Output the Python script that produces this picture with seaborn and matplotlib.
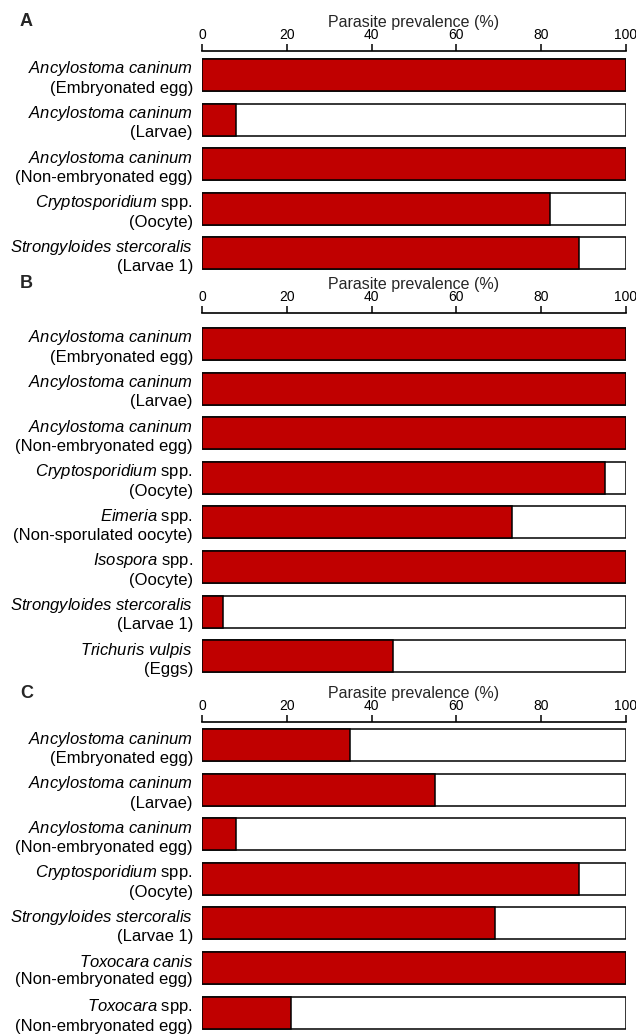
import matplotlib
matplotlib.use("Agg")
import matplotlib.pyplot as plt
import seaborn as sns

sns.set_style("white")
plt.rcParams["font.family"] = ["Liberation Sans", "DejaVu Sans"]
plt.rcParams["mathtext.fontset"] = "custom"
plt.rcParams["mathtext.it"] = "Liberation Sans:italic"
plt.rcParams["mathtext.rm"] = "Liberation Sans"

# ---------------- data ----------------
labels_A = [
    r"$\it{Ancylostoma}$ $\it{caninum}$" + "\n(Embryonated egg)",
    r"$\it{Ancylostoma}$ $\it{caninum}$" + "\n(Larvae)",
    r"$\it{Ancylostoma}$ $\it{caninum}$" + "\n(Non-embryonated egg)",
    r"$\it{Cryptosporidium}$ spp." + "\n(Oocyte)",
    r"$\it{Strongyloides}$ $\it{stercoralis}$" + "\n(Larvae 1)",
]
values_A = [100, 8, 100, 82, 89]

labels_B = [
    r"$\it{Ancylostoma}$ $\it{caninum}$" + "\n(Embryonated egg)",
    r"$\it{Ancylostoma}$ $\it{caninum}$" + "\n(Larvae)",
    r"$\it{Ancylostoma}$ $\it{caninum}$" + "\n(Non-embryonated egg)",
    r"$\it{Cryptosporidium}$ spp." + "\n(Oocyte)",
    r"$\it{Eimeria}$ spp." + "\n(Non-sporulated oocyte)",
    r"$\it{Isospora}$ spp." + "\n(Oocyte)",
    r"$\it{Strongyloides}$ $\it{stercoralis}$" + "\n(Larvae 1)",
    r"$\it{Trichuris}$ $\it{vulpis}$" + "\n(Eggs)",
]
values_B = [100, 100, 100, 95, 73, 100, 5, 45]

labels_C = [
    r"$\it{Ancylostoma}$ $\it{caninum}$" + "\n(Embryonated egg)",
    r"$\it{Ancylostoma}$ $\it{caninum}$" + "\n(Larvae)",
    r"$\it{Ancylostoma}$ $\it{caninum}$" + "\n(Non-embryonated egg)",
    r"$\it{Cryptosporidium}$ spp." + "\n(Oocyte)",
    r"$\it{Strongyloides}$ $\it{stercoralis}$" + "\n(Larvae 1)",
    r"$\it{Toxocara}$ $\it{canis}$" + "\n(Non-embryonated egg)",
    r"$\it{Toxocara}$ spp." + "\n(Non-embryonated egg)",
]
values_C = [35, 55, 8, 89, 69, 100, 21]

panel_letters = ["A", "B", "C"]
x_ticks = [0, 20, 40, 60, 80, 100]
x_label = "Parasite prevalence (%)"

# ---------------- layout ----------------
W, H = 636, 1035
fig = plt.figure(figsize=(W / 100, H / 100), dpi=100)
fig.patch.set_facecolor("white")

SLOT = 44.6
LEFT, RIGHT = 202, 626
panels = [
    (labels_A, values_A, 51, 0.538),
    (labels_B, values_B, 313, 0.695),
    (labels_C, values_C, 722, 0.516),
]
RED = "#C00000"

for letter, (labs, vals, top_px, off) in zip(panel_letters, panels):
    n = len(labs)
    ybot = n - 1 + 0.42
    h_px = (ybot + off) * SLOT
    ax = fig.add_axes([LEFT / W, 1 - (top_px + h_px) / H, (RIGHT - LEFT) / W, h_px / H])
    sns.barplot(x=[100] * n, y=labs, orient="h", color="white", saturation=1,
                edgecolor="black", linewidth=1.1, width=0.72, ax=ax)
    sns.barplot(x=vals, y=labs, orient="h", color=RED, saturation=1,
                edgecolor="black", linewidth=1.1, width=0.72, ax=ax)
    ax.set_xlim(0, 100)
    ax.set_ylim(ybot, -off)
    ax.set_facecolor("white")
    for s in ["bottom", "left", "right"]:
        ax.spines[s].set_visible(False)
    ax.spines["top"].set_linewidth(1.2)
    ax.spines["top"].set_color("black")
    ax.xaxis.tick_top()
    ax.xaxis.set_label_position("top")
    ax.set_xticks(x_ticks)
    ax.tick_params(axis="x", direction="out", length=5, width=1.1, pad=1.5,
                   labelsize=10, colors="black", top=True, bottom=False)
    ax.tick_params(axis="y", length=0, pad=6.5, labelsize=12, colors="black")
    ax.set_xlabel(x_label, fontsize=11.5, labelpad=1)
    ax.set_ylabel("")
    fig.text(20 / W, 1 - (top_px - 29) / H, letter, fontsize=13, fontweight="bold",
             ha="left", va="center")

fig.savefig("out.png", dpi=100, facecolor="white")
